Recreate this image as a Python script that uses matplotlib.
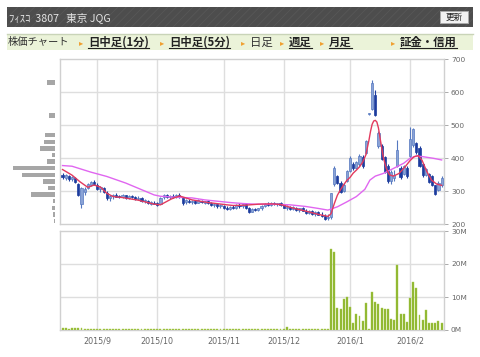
import matplotlib
matplotlib.use("Agg")
import matplotlib.pyplot as plt
from matplotlib.patches import Rectangle
from matplotlib.lines import Line2D

# ---------------- data ----------------
# trading-day index 0 = 2015/8/17 ... 120 = 2016/2/16
opens = [350, 340, 346, 338, 340, 322, 262, 298, 310, 320, 328, 320, 306, 310, 296, 280, 285, 290, 285, 282,
         288, 281, 285, 282, 277, 280, 270, 272, 262, 266, 264, 262, 282, 288, 284, 286, 283, 290, 282, 268,
         272, 269, 270, 266, 272, 266, 270, 264, 258, 261, 254, 256, 250, 247, 252, 249, 259, 254, 260, 248,
         238, 246, 243, 248, 255, 262, 259, 265, 261, 264, 257, 250, 253, 245, 250, 243, 248, 241, 235, 240,
         231, 236, 229, 226, 219, 222, 322, 346, 324, 300, 332, 362, 382, 372, 384, 404, 416, 534, 550, 592,
         436, 438, 404, 378, 330, 340, 378, 372, 352, 370, 406, 440, 445, 432, 384, 350, 352, 345, 318, 304, 318]
highs = [355, 352, 350, 345, 343, 324, 314, 312, 326, 332, 334, 324, 316, 313, 300, 290, 292, 294, 290, 292,
         290, 288, 290, 286, 285, 282, 277, 275, 270, 272, 268, 284, 292, 293, 290, 291, 292, 295, 283, 277,
         278, 275, 274, 276, 275, 272, 273, 268, 265, 263, 261, 259, 256, 255, 258, 263, 264, 262, 264, 252,
         248, 250, 250, 257, 265, 268, 267, 269, 266, 268, 262, 257, 256, 254, 252, 250, 252, 246, 244, 242,
         240, 240, 236, 230, 230, 296, 376, 350, 330, 324, 366, 406, 388, 392, 414, 410, 456, 536, 636, 608,
         482, 442, 408, 382, 364, 366, 456, 378, 380, 376, 496, 492, 450, 436, 386, 372, 356, 348, 320, 330, 346]
lows = [338, 335, 332, 330, 325, 285, 250, 290, 306, 316, 318, 304, 298, 294, 274, 272, 278, 282, 279, 280,
        278, 276, 279, 274, 273, 267, 264, 261, 257, 260, 256, 260, 276, 280, 278, 280, 280, 281, 258, 262,
        266, 263, 262, 264, 264, 262, 261, 254, 252, 250, 248, 246, 244, 242, 246, 247, 250, 250, 246, 233,
        236, 240, 240, 244, 252, 256, 255, 258, 256, 255, 248, 244, 242, 242, 240, 238, 239, 232, 232, 228,
        226, 227, 222, 214, 213, 216, 316, 322, 294, 298, 328, 358, 364, 368, 378, 372, 412, 532, 546, 528,
        430, 394, 354, 324, 322, 330, 374, 336, 348, 340, 402, 434, 414, 374, 344, 346, 324, 316, 288, 300, 314]
closes = [342, 348, 336, 342, 328, 290, 310, 306, 322, 328, 322, 308, 312, 298, 280, 286, 288, 284, 283, 289,
          281, 286, 282, 277, 281, 270, 273, 264, 267, 263, 260, 280, 288, 284, 287, 283, 290, 283, 266, 273,
          269, 271, 266, 273, 267, 270, 264, 258, 262, 254, 257, 250, 247, 253, 249, 260, 254, 260, 248, 238,
          246, 243, 248, 255, 263, 259, 265, 261, 264, 257, 250, 253, 245, 251, 243, 248, 241, 235, 241, 231,
          237, 229, 225, 217, 223, 294, 370, 326, 298, 318, 360, 400, 370, 388, 408, 378, 452, 534, 628, 532,
          478, 398, 358, 330, 358, 350, 424, 342, 376, 345, 460, 488, 418, 378, 348, 368, 328, 320, 292, 326, 340]
volume_m = [0.5, 0.6, 0.4, 0.5, 0.6, 0.5, 0.7, 0.3, 0.3, 0.2, 0.2, 0.2, 0.2, 0.2, 0.3, 0.2, 0.2, 0.2, 0.2, 0.2,
            0.2, 0.2, 0.2, 0.2, 0.2, 0.2, 0.2, 0.2, 0.2, 0.2, 0.2, 0.4, 0.3, 0.2, 0.2, 0.2, 0.2, 0.2, 0.3, 0.2,
            0.2, 0.2, 0.2, 0.2, 0.2, 0.2, 0.2, 0.2, 0.2, 0.2, 0.2, 0.2, 0.2, 0.2, 0.2, 0.2, 0.2, 0.2, 0.2, 0.3,
            0.2, 0.2, 0.2, 0.2, 0.3, 0.2, 0.2, 0.2, 0.2, 0.2, 0.3, 0.8, 0.2, 0.2, 0.2, 0.2, 0.3, 0.2, 0.2, 0.3,
            0.2, 0.2, 0.3, 0.3, 0.4, 24.5, 23.6, 6.7, 6.4, 9.4, 10.0, 7.0, 2.2, 5.0, 4.1, 2.8, 8.3, 0.4, 11.5, 8.5,
            7.9, 6.8, 6.3, 6.4, 3.3, 3.0, 19.7, 5.0, 4.7, 2.4, 9.7, 14.5, 12.7, 4.5, 2.9, 6.0, 2.0, 2.1, 2.0, 2.6, 2.2]

ma_short_x = [0, 3, 5.5, 8, 10, 12, 14, 16, 19, 24, 29, 31, 34.5, 37, 41, 46, 52, 54, 58, 62, 66, 69, 73, 77, 81,
              84, 85, 86, 87, 88, 89, 90, 91, 92, 93, 94, 95, 96, 97, 97.5, 98, 98.5, 99, 99.5, 100, 100.5,
              101.5, 102.5, 103.5, 104.7, 106.5, 108.5, 110, 111.3, 112.6, 113.8, 115.3, 116.8, 118.4, 120]
ma_short_y = [366, 349, 329, 312, 319, 313, 294, 284, 281, 273, 261, 259, 277, 286, 274, 266, 259, 257, 258, 261, 262,
              260, 249, 240, 230, 224, 232, 262, 288, 305, 320, 333, 342, 355, 364, 374, 388, 410, 455, 482,
              503, 513, 515, 510, 492, 462, 405, 368, 350, 346, 354, 375, 393, 405, 408, 394, 360, 334, 322, 318]
ma_long_x = [0, 3, 9, 14, 20, 25, 29, 31, 36, 41, 45, 49, 53, 57, 61, 66, 72, 77, 81, 84, 87, 90, 93, 95.7, 97.3,
             99, 101.5, 104.7, 108, 110, 112, 114, 117.4, 120]
ma_long_y = [378, 376, 358, 345, 325, 305, 289, 285, 282, 280, 274, 270, 266, 263, 261, 261, 259, 254, 248, 243,
             253, 268, 284, 306, 334, 346, 354, 369, 385, 400, 407, 405, 400, 395]

profile_price = [630, 530, 470, 450, 430, 410, 390, 370, 350, 330, 310, 290, 270, 250, 230, 210]
profile_volume = [8.3, 6.0, 10.3, 11.0, 15.0, 2.7, 8.0, 41.7, 32.7, 11.7, 6.7, 24.0, 2.3, 2.7, 1.7, 1.0]

month_pos = [11, 30, 51, 70, 91, 110]
month_labels = ["2015/9", "2015/10", "2015/11", "2015/12", "2016/1", "2016/2"]
price_ticks = [200, 300, 400, 500, 600, 700]
vol_ticks = [0, 10, 20, 30]
vol_labels = ["0M", "10M", "20M", "30M"]

title_text = "ﾌｨｽｺ  3807   東京 JQG"
nav_items = ["日中足(1分)", "日中足(5分)", "日足", "週足", "月足", "証金・信用"]

# ---------------- figure ----------------
W, H = 480, 357
fig = plt.figure(figsize=(W / 100, H / 100), dpi=100)
fig.patch.set_facecolor("white")
CJK = ["Noto Sans CJK JP", "DejaVu Sans"]


def fx(px):
    return px / W


def fy(py):
    return 1 - py / H


def frect(x0, y0, x1, y1, **kw):
    r = Rectangle((fx(x0), fy(y1)), fx(x1) - fx(x0), fy(y0) - fy(y1), transform=fig.transFigure, **kw)
    fig.patches.append(r)
    return r


# header bar
frect(7, 7, 473, 27, facecolor="#4d4d4d", edgecolor="none")
plt.rcParams["hatch.linewidth"] = 0.6
frect(7, 7, 473, 27, facecolor="none", edgecolor="#575757", hatch="////", linewidth=0)
fig.text(fx(9), fy(17.5), title_text, family=CJK, fontsize=7.7, color="#e4e4e4", va="center", ha="left")
frect(440, 11, 468, 23, facecolor="#f2f2f2", edgecolor="#aaaaaa", linewidth=0.7)
fig.text(fx(454), fy(17.2), "更新", family=CJK, fontsize=6.2, color="#222222", va="center", ha="center")

# nav bar
frect(7, 34, 473, 50, facecolor="#ebf3d9", edgecolor="none")
fig.lines.append(Line2D([fx(7), fx(473)], [fy(34.3), fy(34.3)], transform=fig.transFigure,
                        color="#c9d4b8", linewidth=1.0))
fig.text(fx(8), fy(42.5), "株価チャート", family=CJK, fontsize=7.4, color="#333333", va="center", ha="left")
nav_x = [88, 169, 250, 289, 329, 400]
nav_tri = [81, 162, 243, 282, 322, 393]
nav_texts = []
for k, (lab, xx, tx) in enumerate(zip(nav_items, nav_x, nav_tri)):
    fig.text(fx(tx), fy(42.5), "▸", family=["DejaVu Sans"], fontsize=6, color="#f0a030",
             va="center", ha="center")
    current = (lab == "日足")
    t = fig.text(fx(xx), fy(42.5), lab, family=CJK, fontsize=8.2,
                 fontweight="normal" if current else "bold",
                 color="#333333" if current else "#222222", va="center", ha="left")
    nav_texts.append((t, current))

# ---------------- price panel ----------------
XL = (-0.8, 120.75)
ax = fig.add_axes([fx(60), fy(224.3), fx(444) - fx(60), fy(59.3) - fy(224.3)])
ax.set_xlim(*XL)
ax.set_ylim(200, 700)
ax.set_facecolor("white")
for p in [300, 400, 500, 600]:
    ax.axhline(p, color="#dedede", linewidth=1.0, zorder=0)
for m in month_pos:
    ax.axvline(m, color="#dedede", linewidth=1.0, zorder=0)

light_face, light_edge = "#8aa3d6", "#5578c0"
dark_face = "#1c3c9e"
for i in range(len(closes)):
    o, h, l, c = opens[i], highs[i], lows[i], closes[i]
    up = c >= o
    col_edge = light_edge if up else dark_face
    ax.vlines(i, l, h, color=col_edge, linewidth=0.8, zorder=2)
    ax.bar(i, max(abs(c - o), 1.8), bottom=min(o, c), width=0.68,
           facecolor=light_face if up else dark_face, edgecolor=col_edge, linewidth=0.5, zorder=3)

ax.plot(ma_long_x, ma_long_y, color="#e066f0", linewidth=1.0, zorder=4)
ax.plot(ma_short_x, ma_short_y, color="#e23a5e", linewidth=1.0, zorder=5)

ax.set_xticks([])
ax.yaxis.tick_right()
ax.set_yticks(price_ticks)
ax.set_yticklabels([str(p) for p in price_ticks])
ax.tick_params(axis="y", length=3, width=0.7, color="#aaaaaa", labelcolor="#666666", labelsize=5.3, pad=2)
for s in ax.spines.values():
    s.set_color("#d0d0d0")
    s.set_linewidth(1.0)

# ---------------- price-volume profile ----------------
axp = fig.add_axes([fx(5), fy(224.3), fx(55) - fx(5), fy(59.3) - fy(224.3)])
axp.set_xlim(50, 0)
axp.set_ylim(200, 700)
axp.barh(profile_price, profile_volume, height=13.5, color="#a6a6a6", edgecolor="none")
axp.axis("off")

# ---------------- volume panel ----------------
axv = fig.add_axes([fx(60), fy(330), fx(444) - fx(60), fy(231) - fy(330)])
axv.set_xlim(*XL)
axv.set_ylim(0, 30)
for v in [10, 20]:
    axv.axhline(v, color="#dedede", linewidth=1.0, zorder=0)
for m in month_pos:
    axv.axvline(m, color="#dedede", linewidth=1.0, zorder=0)
axv.bar(range(len(volume_m)), volume_m, width=0.62, color="#8db52d", edgecolor="#a9cc4e",
        linewidth=0.3, zorder=3)
axv.yaxis.tick_right()
axv.set_yticks(vol_ticks)
axv.set_yticklabels(vol_labels)
axv.set_xticks(month_pos)
axv.set_xticklabels(month_labels)
axv.tick_params(axis="y", length=3, width=0.7, color="#aaaaaa", labelcolor="#666666", labelsize=5.3, pad=2)
axv.tick_params(axis="x", length=0, labelcolor="#666666", labelsize=5.8, pad=5)
for s in axv.spines.values():
    s.set_color("#d0d0d0")
    s.set_linewidth(1.0)

# underline nav links
fig.canvas.draw()
r = fig.canvas.get_renderer()
for t, current in nav_texts:
    if current:
        continue
    bb = t.get_window_extent(renderer=r)
    yline = fy(48.4)
    fig.lines.append(Line2D([bb.x0 / W, bb.x1 / W], [yline, yline], transform=fig.transFigure,
                            color="#222222", linewidth=0.8))

fig.savefig("out.png", dpi=100, facecolor="white")
